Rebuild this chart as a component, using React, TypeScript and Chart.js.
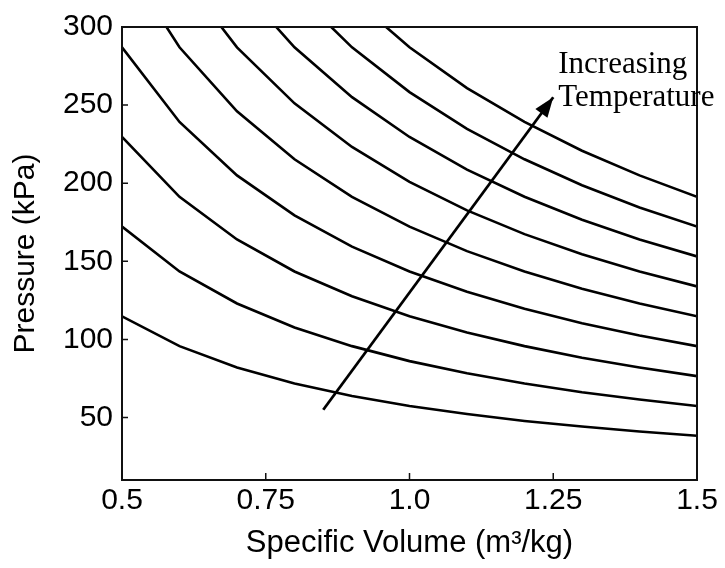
import React, { useEffect, useRef } from "react";
import { Chart, registerables } from "chart.js";

Chart.register(...registerables);

const volumes = [0.5, 0.6, 0.7, 0.8, 0.9, 1.0, 1.1, 1.2, 1.3, 1.4, 1.5];

const isotherm1 = [114.8, 95.7, 82.0, 71.8, 63.8, 57.4, 52.2, 47.8, 44.2, 41.0, 38.3];
const isotherm2 = [172.2, 143.5, 123.0, 107.6, 95.7, 86.1, 78.3, 71.8, 66.2, 61.5, 57.4];
const isotherm3 = [229.6, 191.3, 164.0, 143.5, 127.6, 114.8, 104.4, 95.7, 88.3, 82.0, 76.5];
const isotherm4 = [287.0, 239.2, 205.0, 179.4, 159.4, 143.5, 130.5, 119.6, 110.4, 102.5, 95.7];
const isotherm5 = [344.4, 287.0, 246.0, 215.3, 191.3, 172.2, 156.5, 143.5, 132.5, 123.0, 114.8];
const isotherm6 = [401.8, 334.8, 287.0, 251.1, 223.2, 200.9, 182.6, 167.4, 154.5, 143.5, 133.9];
const isotherm7 = [459.2, 382.7, 328.0, 287.0, 255.1, 229.6, 208.7, 191.3, 176.6, 164.0, 153.1];
const isotherm8 = [516.6, 430.5, 369.0, 322.9, 287.0, 258.3, 234.8, 215.3, 198.7, 184.5, 172.2];
const isotherm9 = [574.0, 478.3, 410.0, 358.8, 318.9, 287.0, 260.9, 239.2, 220.8, 205.0, 191.3];

const isotherms = [isotherm1, isotherm2, isotherm3, isotherm4, isotherm5, isotherm6, isotherm7, isotherm8, isotherm9];

const xTickValues = [0.5, 0.75, 1.0, 1.25, 1.5];
const xTickLabels = ["0.5", "0.75", "1.0", "1.25", "1.5"];
const yTickValues = [50, 100, 150, 200, 250, 300];
const yTickLabels = ["50", "100", "150", "200", "250", "300"];

const arrowStart = { x: 0.85, y: 55 };
const arrowEnd = { x: 1.25, y: 255 };
const annotationLines = ["Increasing", "Temperature"];

const SANS = "'Liberation Sans', Arial, Helvetica, sans-serif";
const SERIF = "'Liberation Serif', 'Times New Roman', serif";

const framePlugin = {
  id: "frameAndArrow",
  afterDatasetsDraw(chart: any) {
    const { ctx, chartArea } = chart;
    const xs = chart.scales.x;
    const ys = chart.scales.y;
    ctx.save();
    ctx.strokeStyle = "#111";
    ctx.lineWidth = 2;
    ctx.strokeRect(chartArea.left, chartArea.top, chartArea.right - chartArea.left, chartArea.bottom - chartArea.top);
    ctx.lineWidth = 1.5;
    ctx.beginPath();
    xTickValues.forEach((v) => {
      const px = xs.getPixelForValue(v);
      ctx.moveTo(px, chartArea.bottom);
      ctx.lineTo(px, chartArea.bottom - 7);
    });
    yTickValues.forEach((v) => {
      const py = ys.getPixelForValue(v);
      ctx.moveTo(chartArea.left, py);
      ctx.lineTo(chartArea.left + 6, py);
    });
    ctx.stroke();

    const x0 = xs.getPixelForValue(arrowStart.x);
    const y0 = ys.getPixelForValue(arrowStart.y);
    const x1 = xs.getPixelForValue(arrowEnd.x);
    const y1 = ys.getPixelForValue(arrowEnd.y);
    const ang = Math.atan2(y1 - y0, x1 - x0);
    const headLen = 20;
    const headHalf = 7.5;
    const bx = x1 - headLen * Math.cos(ang);
    const by = y1 - headLen * Math.sin(ang);
    ctx.fillStyle = "#000";
    ctx.beginPath();
    ctx.moveTo(x1, y1);
    ctx.lineTo(bx + headHalf * Math.sin(ang), by - headHalf * Math.cos(ang));
    ctx.lineTo(bx - headHalf * Math.sin(ang), by + headHalf * Math.cos(ang));
    ctx.closePath();
    ctx.fill();

    ctx.font = `31px ${SERIF}`;
    ctx.fillStyle = "#000";
    ctx.textAlign = "left";
    ctx.textBaseline = "alphabetic";
    ctx.fillText(annotationLines[0], x1 + 5, y1 - 24);
    ctx.fillText(annotationLines[1], x1 + 5, y1 + 9);
    ctx.restore();
  },
};

export default function App() {
  const canvasRef = useRef<HTMLCanvasElement | null>(null);

  useEffect(() => {
    if (!canvasRef.current) return;
    const lineSets = isotherms.map((vals, i) => ({
      label: `T${i + 1}`,
      data: vals.map((p, j) => ({ x: volumes[j], y: p })),
      borderColor: "#000",
      borderWidth: 2.6,
      pointRadius: 0,
      tension: 0,
      fill: false,
    }));
    const arrowSet = {
      label: "arrow",
      data: [arrowStart, arrowEnd],
      borderColor: "#000",
      borderWidth: 2.8,
      pointRadius: 0,
      tension: 0,
      fill: false,
    };
    const chart = new Chart(canvasRef.current, {
      type: "line",
      data: { datasets: [...lineSets, arrowSet] as any },
      options: {
        animation: false,
        responsive: false,
        devicePixelRatio: 1,
        layout: { padding: { top: 25, right: 28, left: 0, bottom: 0 } },
        plugins: { legend: { display: false }, tooltip: { enabled: false } },
        scales: {
          x: {
            type: "linear",
            min: 0.5,
            max: 1.5,
            grid: { display: false, drawTicks: false },
            border: { display: false },
            afterBuildTicks: (s: any) => {
              s.ticks = xTickValues.map((v) => ({ value: v }));
            },
            afterFit: (s: any) => {
              s.height = 88;
            },
            ticks: {
              color: "#000",
              font: { family: SANS, size: 30 },
              padding: 3,
              maxRotation: 0,
              autoSkip: false,
              callback: (v: any) => {
                const i = xTickValues.findIndex((t) => Math.abs(t - Number(v)) < 1e-6);
                return i >= 0 ? xTickLabels[i] : "";
              },
            },
            title: {
              display: true,
              text: "Specific Volume (m³/kg)",
              color: "#000",
              font: { family: SANS, size: 31 },
              padding: { top: 0, bottom: 6 },
            },
          },
          y: {
            type: "linear",
            min: 10,
            max: 300,
            grid: { display: false, drawTicks: false },
            border: { display: false },
            afterBuildTicks: (s: any) => {
              s.ticks = yTickValues.map((v) => ({ value: v }));
            },
            afterFit: (s: any) => {
              s.width = 122;
            },
            ticks: {
              color: "#000",
              font: { family: SANS, size: 30 },
              padding: 9,
              autoSkip: false,
              callback: (v: any) => {
                const i = yTickValues.findIndex((t) => Math.abs(t - Number(v)) < 1e-6);
                return i >= 0 ? yTickLabels[i] : "";
              },
            },
            title: {
              display: true,
              text: "Pressure (kPa)",
              color: "#000",
              font: { family: SANS, size: 30 },
              padding: { top: 8, bottom: 0 },
            },
          },
        },
      },
      plugins: [framePlugin],
    });
    return () => chart.destroy();
  }, []);

  return (
    <div style={{ position: "absolute", left: 0, top: 0, width: 725, height: 568, background: "#fff" }}>
      <canvas ref={canvasRef} width={725} height={568} />
    </div>
  );
}
